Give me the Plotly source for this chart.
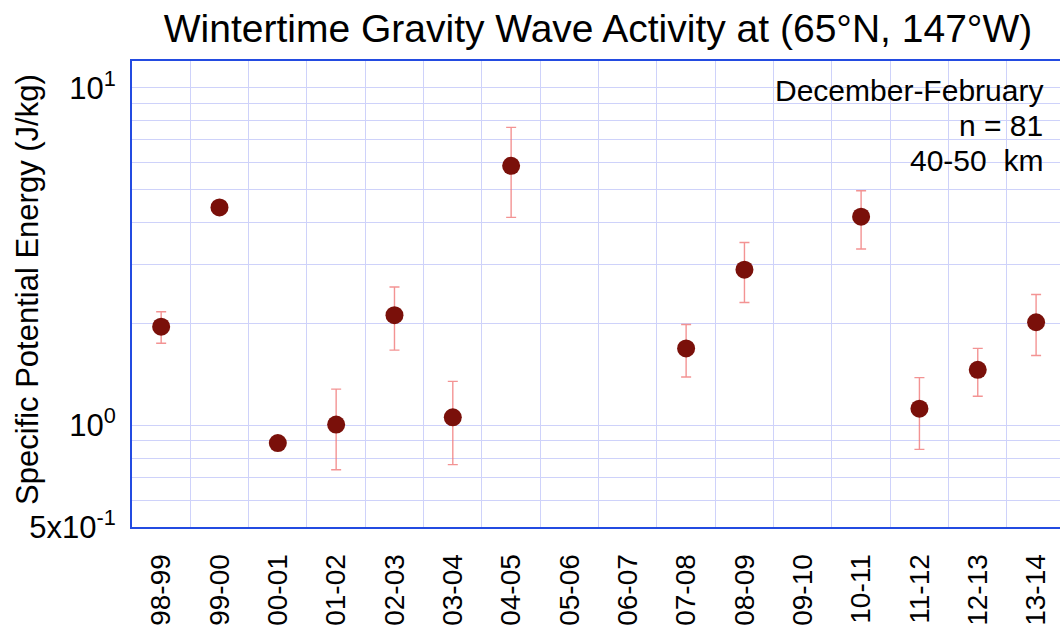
import math
import plotly.graph_objects as go

# ---- data ----
seasons = ["98-99", "99-00", "00-01", "01-02", "02-03", "03-04", "04-05", "05-06",
           "06-07", "07-08", "08-09", "09-10", "10-11", "11-12", "12-13", "13-14"]
energy = [1.96, 4.42, 0.886, 1.005, 2.12, 1.056, 5.87, None,
          None, 1.69, 2.89, None, 4.15, 1.12, 1.46, 2.02]
upper = [2.17, None, None, 1.28, 2.57, 1.35, 7.63, None,
         None, 1.99, 3.48, None, 4.95, 1.385, 1.69, 2.44]
lower = [1.75, None, None, 0.739, 1.67, 0.765, 4.13, None,
         None, 1.39, 2.31, None, 3.33, 0.849, 1.22, 1.61]

y_major_vals = [0.5, 1, 10]
y_major_text = ["5x10<sup>-1</sup>", "10<sup>0</sup>", "10<sup>1</sup>"]
y_minor_vals = [0.6, 0.7, 0.8, 0.9, 2, 3, 4, 5, 6, 7, 8, 9]

info_lines = ["December-February", "n = 81", "40-50\u00a0 km"]

err_plus = [(u - e) if (u is not None and e is not None) else None for u, e in zip(upper, energy)]
err_minus = [(e - l) if (l is not None and e is not None) else None for l, e in zip(lower, energy)]

FONT = "Liberation Sans, Arial, Helvetica, sans-serif"
SPINE = "rgb(35,75,225)"
GRID = "rgb(206,210,250)"

fig = go.Figure()
fig.add_trace(go.Scatter(
    x=seasons, y=energy, mode="markers",
    marker=dict(size=18, color="#7a100a", line=dict(width=0)),
    error_y=dict(type="data", symmetric=False, array=err_plus, arrayminus=err_minus,
                 color="rgba(240,120,120,0.8)", thickness=1.4, width=5),
    showlegend=False,
))

W, H = 1060, 625
L, R, T, B = 132, 0, 61, 98
pw, ph = W - L - R, H - T - B

def px_x(p):
    return (p - L) / pw

def px_y(p):
    return (H - B - p) / ph

fig.update_layout(
    width=W, height=H,
    margin=dict(l=L, r=R, t=T, b=B, autoexpand=False),
    paper_bgcolor="white", plot_bgcolor="white",
    font=dict(family=FONT, color="black", size=28),
    title=dict(text="Wintertime Gravity Wave Activity at (65°N, 147°W)",
               font=dict(family=FONT, size=39, color="black"),
               x=598 / W, xanchor="center", yref="container", y=1 - 28 / H, yanchor="middle"),
    xaxis=dict(type="category", categoryorder="array", categoryarray=seasons,
               range=[-0.5, 15.41], tickson="boundaries", showgrid=True, gridcolor=GRID, gridwidth=1,
               showline=True, linecolor=SPINE, linewidth=2, mirror=True,
               ticks="", tickangle=-90, tickfont=dict(size=28, family=FONT),
               ticklabelstandoff=14, zeroline=False),
    yaxis=dict(type="log", range=[math.log10(0.5), 1.079],
               tickmode="array", tickvals=y_major_vals, ticktext=y_major_text,
               showgrid=True, gridcolor=GRID, gridwidth=1,
               minor=dict(tickmode="array", tickvals=y_minor_vals, showgrid=True,
                          gridcolor=GRID, gridwidth=1, ticks=""),
               showline=True, linecolor=SPINE, linewidth=2, mirror=False,
               ticks="", tickfont=dict(size=31, family=FONT), ticklabelstandoff=8,
               zeroline=False),
)

# y-axis title
fig.add_annotation(text="Specific Potential Energy (J/kg)", textangle=-90,
                   xref="paper", yref="paper", x=px_x(27), y=px_y(290),
                   xanchor="center", yanchor="middle", showarrow=False,
                   font=dict(family=FONT, size=31, color="black"))

# info box
fig.add_shape(type="rect", xref="paper", yref="paper",
              x0=px_x(767), x1=px_x(1054), y0=px_y(180), y1=px_y(67),
              fillcolor="white", line=dict(width=0), layer="between")
for i, line in enumerate(info_lines):
    fig.add_annotation(text=line, xref="paper", yref="paper",
                       x=px_x(1045), y=px_y(90 + 35 * i), xanchor="right", yanchor="middle",
                       showarrow=False, font=dict(family=FONT, size=30, color="black"))

fig.write_html("out.html")
